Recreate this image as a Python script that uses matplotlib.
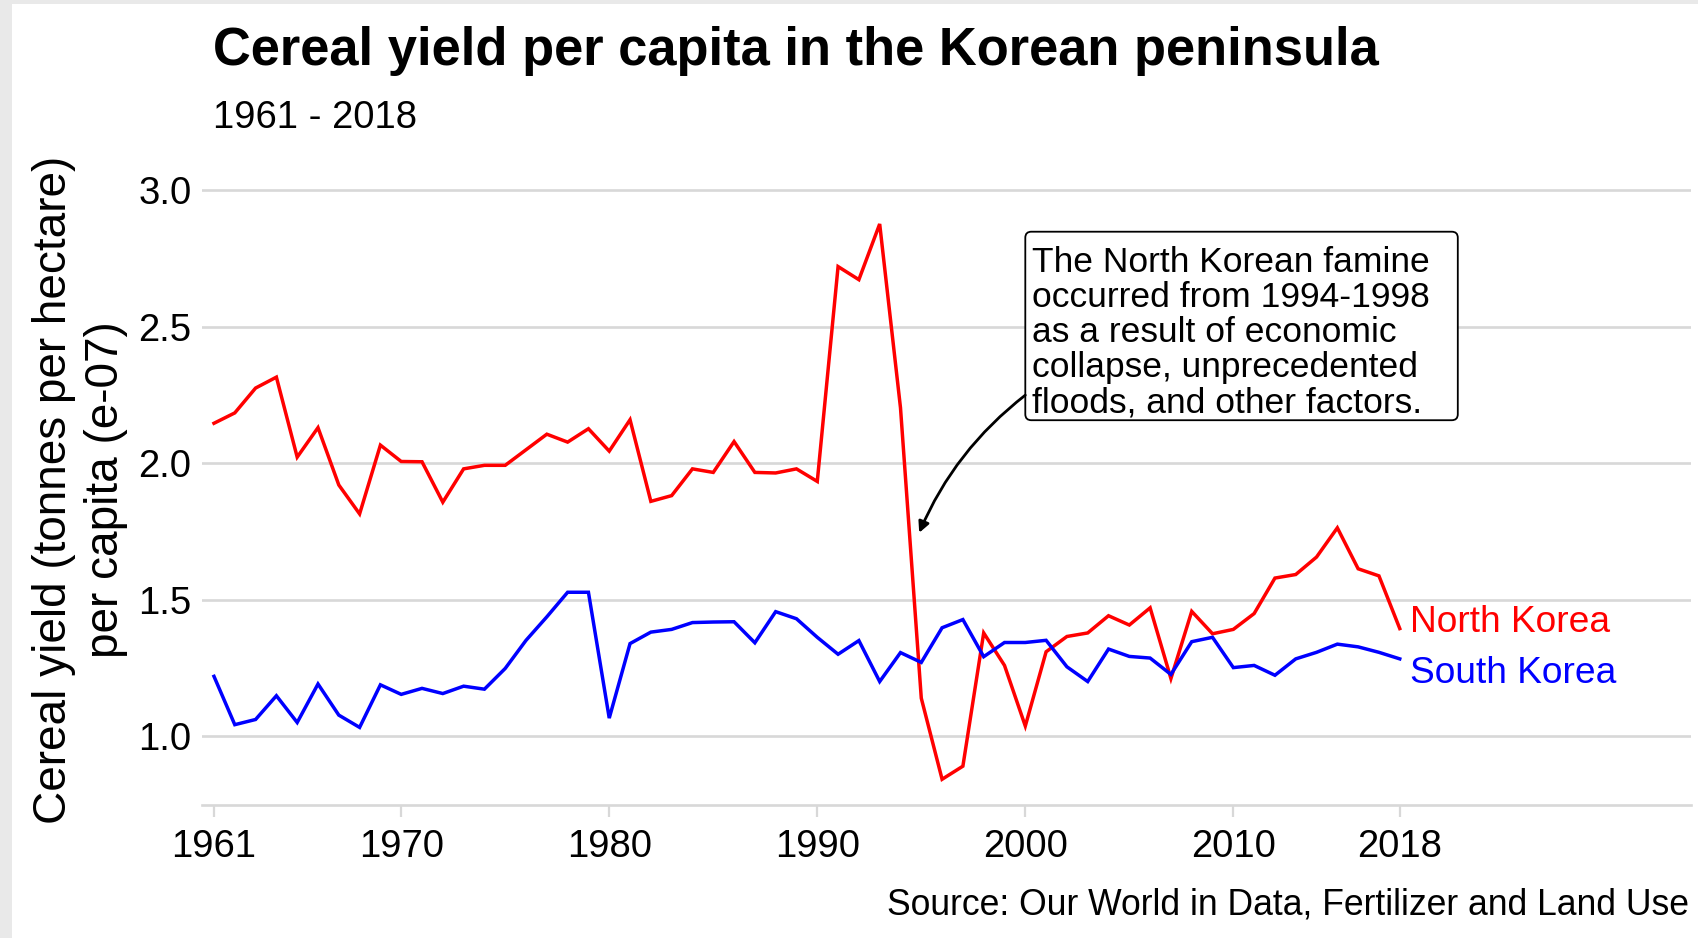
import matplotlib
matplotlib.use("Agg")
import matplotlib.pyplot as plt
from matplotlib.patches import FancyBboxPatch, Rectangle
from matplotlib.transforms import IdentityTransform

plt.rcParams['font.family'] = ['Liberation Sans', 'DejaVu Sans']

# ---------------- data ----------------
years = list(range(1961, 2019))
north_korea = [2.147, 2.185, 2.276, 2.316, 2.023, 2.131, 1.921, 1.815, 2.067, 2.007,
               2.006, 1.858, 1.980, 1.993, 1.993, 2.050, 2.107, 2.078, 2.127, 2.045,
               2.160, 1.861, 1.882, 1.980, 1.967, 2.080, 1.967, 1.965, 1.980, 1.934,
               2.721, 2.673, 2.877, 2.204, 1.140, 0.843, 0.891, 1.379, 1.260, 1.038,
               1.310, 1.366, 1.379, 1.442, 1.408, 1.471, 1.212, 1.458, 1.376, 1.392,
               1.450, 1.580, 1.593, 1.657, 1.764, 1.614, 1.588, 1.395]
south_korea = [1.220, 1.043, 1.062, 1.149, 1.051, 1.192, 1.078, 1.033, 1.189, 1.154,
               1.176, 1.157, 1.184, 1.173, 1.249, 1.352, 1.438, 1.528, 1.528, 1.067,
               1.340, 1.382, 1.392, 1.417, 1.419, 1.420, 1.343, 1.457, 1.431, 1.363,
               1.301, 1.351, 1.201, 1.307, 1.271, 1.398, 1.428, 1.292, 1.344, 1.344,
               1.352, 1.255, 1.201, 1.320, 1.293, 1.287, 1.227, 1.347, 1.363, 1.252,
               1.260, 1.224, 1.284, 1.308, 1.338, 1.328, 1.308, 1.284]
x_ticks = [1961, 1970, 1980, 1990, 2000, 2010, 2018]
y_ticks = [1.0, 1.5, 2.0, 2.5, 3.0]
y_tick_labels = ['1.0', '1.5', '2.0', '2.5', '3.0']

title = 'Cereal yield per capita in the Korean peninsula'
subtitle = '1961 - 2018'
caption = 'Source: Our World in Data, Fertilizer and Land Use'
ylabel = 'Cereal yield (tonnes per hectare)\nper capita (e-07)'
note = ('The North Korean famine\noccurred from 1994-1998\nas a result of economic\n'
        'collapse, unprecedented\nfloods, and other factors.')

# ---------------- layout ----------------
W, H = 1698, 938
DPI = 100
def fx(px): return px / W
def fy(py): return 1 - py / H

RED = '#FF0000'
BLUE = '#0000FF'
GRID = '#D8D8D8'

fig = plt.figure(figsize=(W / DPI, H / DPI), dpi=DPI, facecolor='#E9E9E9')
fig.add_artist(Rectangle((fx(12), 0), 1 - fx(12), fy(4), transform=fig.transFigure,
                         facecolor='white', edgecolor='none', zorder=0))

ax_l, ax_r, ax_t, ax_b = 201.5, 1691.0, 176.75, 804.5
ax = fig.add_axes([fx(ax_l), fy(ax_b), fx(ax_r - ax_l), (ax_b - ax_t) / H])
ax.set_facecolor('none')
ax.set_xlim(1960.4, 2032.0)
ax.set_ylim(0.7506, 3.05)

ax.plot(years, north_korea, color=RED, lw=2.5, solid_joinstyle='miter', zorder=3)
ax.plot(years, south_korea, color=BLUE, lw=2.5, solid_joinstyle='miter', zorder=3)

for s in ['top', 'right', 'left']:
    ax.spines[s].set_visible(False)
ax.spines['bottom'].set_color(GRID)
ax.spines['bottom'].set_linewidth(1.9)

ax.set_xticks(x_ticks)
ax.set_xticklabels([str(v) for v in x_ticks])
ax.set_yticks(y_ticks)
ax.set_yticklabels(y_tick_labels)
ax.tick_params(axis='x', colors=GRID, length=8.6, width=1.6, pad=9, labelsize=27.5,
               labelcolor='black')
ax.tick_params(axis='y', length=0, pad=7.2, labelsize=27.5, labelcolor='black')
ax.grid(axis='y', color=GRID, lw=1.9, zorder=1)
ax.set_axisbelow(True)

# series labels
ax.text(years[-1] + 0.5, north_korea[-1] - 0.0115, 'North Korea', color=RED,
        fontsize=26.7, va='baseline', ha='left')
ax.text(years[-1] + 0.5, south_korea[-1] - 0.087, 'South Korea', color=BLUE,
        fontsize=26.7, va='baseline', ha='left')

# annotation box
fig.canvas.draw()
(bx0, by0) = ax.transData.transform((2000.0, 2.1582))
(bx1, by1) = ax.transData.transform((2020.79, 2.8487))
box = FancyBboxPatch((bx0, by0), bx1 - bx0, by1 - by0,
                     boxstyle='round,pad=0,rounding_size=6',
                     transform=IdentityTransform(), facecolor='white',
                     edgecolor='black', lw=1.3, zorder=4, clip_on=False)
ax.add_patch(box)
ax.text(2000.33, 2.797, note, fontsize=25.5, va='top', ha='left',
        linespacing=1.08, zorder=5)
ax.annotate('', xy=(1994.90, 1.746), xytext=(2000.0, 2.25),
            arrowprops=dict(arrowstyle='-|>', connectionstyle='arc3,rad=0.13',
                            color='black', lw=2.0, shrinkA=0, shrinkB=0,
                            mutation_scale=16), zorder=5)

# titles and captions
fig.text(fx(213), fy(65.5), title, fontsize=37.8, fontweight='bold',
         ha='left', va='baseline')
fig.text(fx(213), fy(128), subtitle, fontsize=27.5, ha='left', va='baseline')
fig.text(fx(1689), fy(914), caption, fontsize=25.6, ha='right', va='baseline')
fig.text(fx(80), fy(490), ylabel, fontsize=33, rotation=90, ha='center',
         va='center', multialignment='center', linespacing=1.257)

fig.savefig('out.png', dpi=DPI, facecolor=fig.get_facecolor())
